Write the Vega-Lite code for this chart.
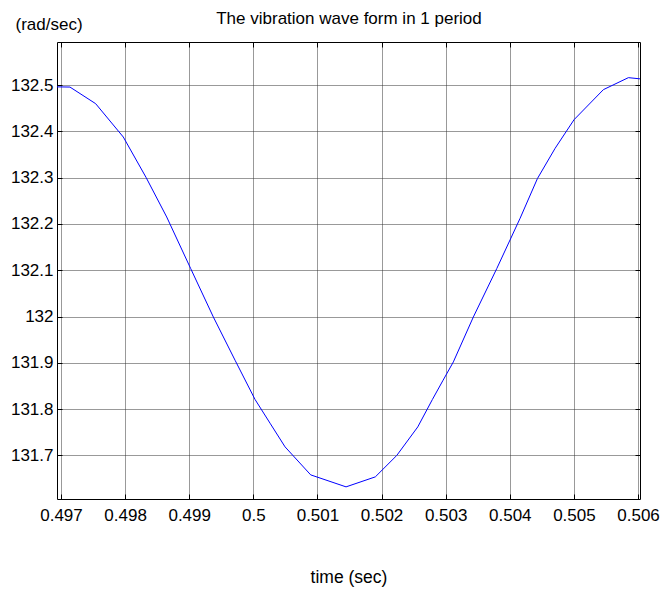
{
  "$schema": "https://vega.github.io/schema/vega-lite/v6.json",
  "autosize": {"type": "none"},
  "padding": {"left": 57, "top": 42, "right": 22, "bottom": 92},
  "width": 583,
  "height": 457,
  "background": "white",
  "config": {
    "view": {"stroke": null},
    "axis": {
      "labelFont": "Liberation Sans",
      "labelFontSize": 17,
      "labelColor": "#000",
      "titleFont": "Liberation Sans",
      "titleFontSize": 17.5,
      "titleFontWeight": "normal",
      "titleColor": "#000",
      "domainColor": "#000",
      "domainWidth": 1,
      "tickColor": "#000",
      "tickWidth": 1,
      "gridColor": "#333",
      "gridDash": [1, 1],
      "gridWidth": 1,
      "gridOpacity": 1
    }
  },
  "data": {
    "values": [
      {"t": 0.496938, "w": 132.4961},
      {"t": 0.497140, "w": 132.4957},
      {"t": 0.497541, "w": 132.4598},
      {"t": 0.497972, "w": 132.3878},
      {"t": 0.498326, "w": 132.3008},
      {"t": 0.498649, "w": 132.2151},
      {"t": 0.499023, "w": 132.1037},
      {"t": 0.499376, "w": 131.9992},
      {"t": 0.499715, "w": 131.9057},
      {"t": 0.500027, "w": 131.8209},
      {"t": 0.500261, "w": 131.7697},
      {"t": 0.500495, "w": 131.7186},
      {"t": 0.500895, "w": 131.6581},
      {"t": 0.501446, "w": 131.6322},
      {"t": 0.501903, "w": 131.6538},
      {"t": 0.502237, "w": 131.7000},
      {"t": 0.502565, "w": 131.7617},
      {"t": 0.502793, "w": 131.8209},
      {"t": 0.502960, "w": 131.8626},
      {"t": 0.503120, "w": 131.9021},
      {"t": 0.503432, "w": 131.9992},
      {"t": 0.503797, "w": 132.1037},
      {"t": 0.504161, "w": 132.2123},
      {"t": 0.504431, "w": 132.2980},
      {"t": 0.504707, "w": 132.3634},
      {"t": 0.505003, "w": 132.4253},
      {"t": 0.505460, "w": 132.4901},
      {"t": 0.505850, "w": 132.5160},
      {"t": 0.506031, "w": 132.5134}
    ]
  },
  "resolve": {"axis": {"x": "independent", "y": "independent"}},
  "layer": [
    {
      "mark": {"type": "line", "color": "#0000ff", "strokeWidth": 1, "clip": true},
      "encoding": {
        "x": {
          "field": "t",
          "type": "quantitative",
          "scale": {"domain": [0.496938, 0.506031], "nice": false, "zero": false},
          "axis": {
            "orient": "bottom",
            "title": "time (sec)",
            "titleX": 291.5,
            "titleY": 83,
            "titleBaseline": "alphabetic",
            "values": [0.497, 0.498, 0.499, 0.5, 0.501, 0.502, 0.503, 0.504, 0.505, 0.506],
            "format": ".3~f",
            "grid": true,
            "ticks": true,
            "tickSize": -5,
            "labelPadding": 13,
            "labelBaseline": "top"
          }
        },
        "y": {
          "field": "w",
          "type": "quantitative",
          "scale": {"domain": [131.606, 132.593], "nice": false, "zero": false},
          "axis": {
            "orient": "left",
            "title": "(rad/sec)",
            "titleAngle": 0,
            "titleX": -42,
            "titleY": -13,
            "titleAlign": "left",
            "titleBaseline": "alphabetic",
            "titleFontSize": 17,
            "values": [131.7, 131.8, 131.9, 132, 132.1, 132.2, 132.3, 132.4, 132.5],
            "format": ".1~f",
            "grid": true,
            "ticks": true,
            "tickSize": -5,
            "labelPadding": 9
          }
        }
      }
    },
    {
      "mark": {"type": "line", "strokeOpacity": 0},
      "encoding": {
        "x": {
          "field": "t",
          "type": "quantitative",
          "scale": {"domain": [0.496938, 0.506031], "nice": false, "zero": false},
          "axis": {
            "orient": "top",
            "title": "The vibration wave form in 1 period",
            "titleX": 291.5,
            "titleY": -19,
            "titleAlign": "center",
            "titleBaseline": "alphabetic",
            "titleFontSize": 17,
            "labels": false,
            "grid": false,
            "values": [0.497, 0.498, 0.499, 0.5, 0.501, 0.502, 0.503, 0.504, 0.505, 0.506],
            "tickSize": -5
          }
        },
        "y": {
          "field": "w",
          "type": "quantitative",
          "scale": {"domain": [131.606, 132.593], "nice": false, "zero": false},
          "axis": {
            "orient": "right",
            "title": null,
            "labels": false,
            "grid": false,
            "values": [131.7, 131.8, 131.9, 132, 132.1, 132.2, 132.3, 132.4, 132.5],
            "tickSize": -5
          }
        }
      }
    }
  ]
}
